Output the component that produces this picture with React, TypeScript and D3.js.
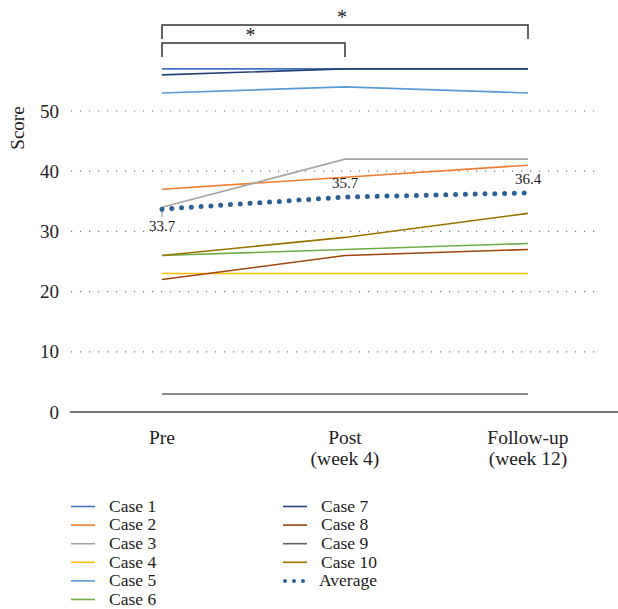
import React from "react";
import * as d3 from "d3";

const timepoints = ["Pre", "Post", "Follow-up"];
const timeLabelLines = [["Pre"], ["Post", "(week 4)"], ["Follow-up", "(week 12)"]];
const caseNames = ["Case 1", "Case 2", "Case 3", "Case 4", "Case 5", "Case 6", "Case 7", "Case 8", "Case 9", "Case 10"];
const caseColors = ["#4472C4", "#ED7D31", "#A5A5A5", "#FFC000", "#5B9BD5", "#70AD47", "#264478", "#9E480E", "#636363", "#997300"];
const case1 = [57, 57, 57];
const case2 = [37, 39, 41];
const case3 = [34, 42, 42];
const case4 = [23, 23, 23];
const case5 = [53, 54, 53];
const case6 = [26, 27, 28];
const case7 = [56, 57, 57];
const case8 = [22, 26, 27];
const case9 = [3, 3, 3];
const case10 = [26, 29, 33];
const caseValues = [case1, case2, case3, case4, case5, case6, case7, case8, case9, case10];
const average = [33.7, 35.7, 36.4];
const yTicks = [0, 10, 20, 30, 40, 50];
const averageName = "Average";
const averageColor = "#2E6193";
const brackets = [
  { from: "Pre", to: "Follow-up", label: "*" },
  { from: "Pre", to: "Post", label: "*" },
];

const FONT = '"Liberation Serif", "Times New Roman", "DejaVu Serif", serif';
const txt = { fontFamily: FONT };

export default function App() {
  const x = d3.scalePoint<string>().domain(timepoints).range([162, 528]);
  const y = d3.scaleLinear().domain([0, 50]).range([412, 111]);
  const line = d3
    .line<number>()
    .x((_, i) => x(timepoints[i]) as number)
    .y((d) => y(d));

  const bracketTops = [25, 43];
  const bracketDrop = 14;
  const legendTop = 506.5;
  const legendStep = 18.6;

  return (
    <svg
      width={618}
      height={609}
      style={{ position: "absolute", left: 0, top: 0, background: "#fff", fontFamily: FONT }}
    >
      {/* gridlines */}
      {yTicks.filter((t) => t > 0).map((t) => (
        <line
          key={"g" + t}
          x1={71}
          x2={600}
          y1={y(t)}
          y2={y(t)}
          stroke="#777"
          strokeWidth={1.2}
          strokeDasharray="1.2 7.8"
        />
      ))}
      {/* y tick labels */}
      {yTicks.map((t) => (
        <text key={"t" + t} x={59} y={y(t)} dy="0.35em" textAnchor="end" fontSize={19} fill="#222" style={txt}>
          {t}
        </text>
      ))}
      <text
        transform={`translate(24,128) rotate(-90)`}
        textAnchor="middle"
        fontSize={19}
        fill="#222"
        style={txt}
      >
        Score
      </text>
      {/* baseline */}
      <line x1={70} x2={618} y1={y(0)} y2={y(0)} stroke="#444" strokeWidth={1.6} />
      {/* x labels */}
      {timeLabelLines.map((lines, i) => (
        <text key={"x" + i} x={x(timepoints[i])} y={444} textAnchor="middle" fontSize={19.5} fill="#222" style={txt}>
          {lines.map((l, j) => (
            <tspan key={j} x={x(timepoints[i])} dy={j === 0 ? 0 : 21}>
              {l}
            </tspan>
          ))}
        </text>
      ))}
      {/* case lines */}
      {caseValues.map((vals, i) => (
        <path key={"c" + i} d={line(vals) || ""} fill="none" stroke={caseColors[i]} strokeWidth={1.6} />
      ))}
      {/* leader line for first label */}
      <line x1={x("Pre")} x2={x("Pre")} y1={y(average[0])} y2={y(average[0]) + 8} stroke="#888" strokeWidth={1} />
      {/* average */}
      <path
        d={line(average) || ""}
        fill="none"
        stroke={averageColor}
        strokeWidth={5}
        strokeLinecap="round"
        strokeDasharray="0 9.8"
      />
      {average.map((v, i) => (
        <text
          key={"a" + i}
          x={x(timepoints[i])}
          y={i === 0 ? y(v) + 22 : y(v) - 9}
          textAnchor="middle"
          fontSize={15}
          fill="#222"
          style={txt}
        >
          {v.toFixed(1)}
        </text>
      ))}
      {/* significance brackets */}
      {brackets.map((b, i) => {
        const x1 = x(b.from) as number;
        const x2 = x(b.to) as number;
        const top = bracketTops[i];
        return (
          <g key={"b" + i}>
            <path
              d={`M${x1},${top + bracketDrop}V${top}H${x2}V${top + bracketDrop}`}
              fill="none"
              stroke="#333"
              strokeWidth={1.5}
            />
            <text x={(x1 + x2) / 2 - 3} y={top - 1} textAnchor="middle" fontSize={20} fill="#222" style={txt}>
              {b.label}
            </text>
          </g>
        );
      })}
      {/* legend */}
      {caseNames.map((name, i) => {
        const col = i < 6 ? 0 : 1;
        const row = i < 6 ? i : i - 6;
        const lx = col === 0 ? 71 : 283;
        const ly = legendTop + row * legendStep;
        return (
          <g key={"l" + i}>
            <line x1={lx} x2={lx + 24} y1={ly} y2={ly} stroke={caseColors[i]} strokeWidth={1.6} />
            <text x={lx + 38} y={ly} dy="0.3em" fontSize={17.5} fill="#222" style={txt}>
              {name}
            </text>
          </g>
        );
      })}
      {(() => {
        const lx = 283;
        const ly = legendTop + 4 * legendStep;
        return (
          <g>
            <line
              x1={lx + 2}
              x2={lx + 24}
              y1={ly}
              y2={ly}
              stroke={averageColor}
              strokeWidth={4}
              strokeLinecap="round"
              strokeDasharray="0 9"
            />
            <text x={lx + 36} y={ly} dy="0.3em" fontSize={17.5} fill="#222" style={txt}>
              {averageName}
            </text>
          </g>
        );
      })()}
    </svg>
  );
}
